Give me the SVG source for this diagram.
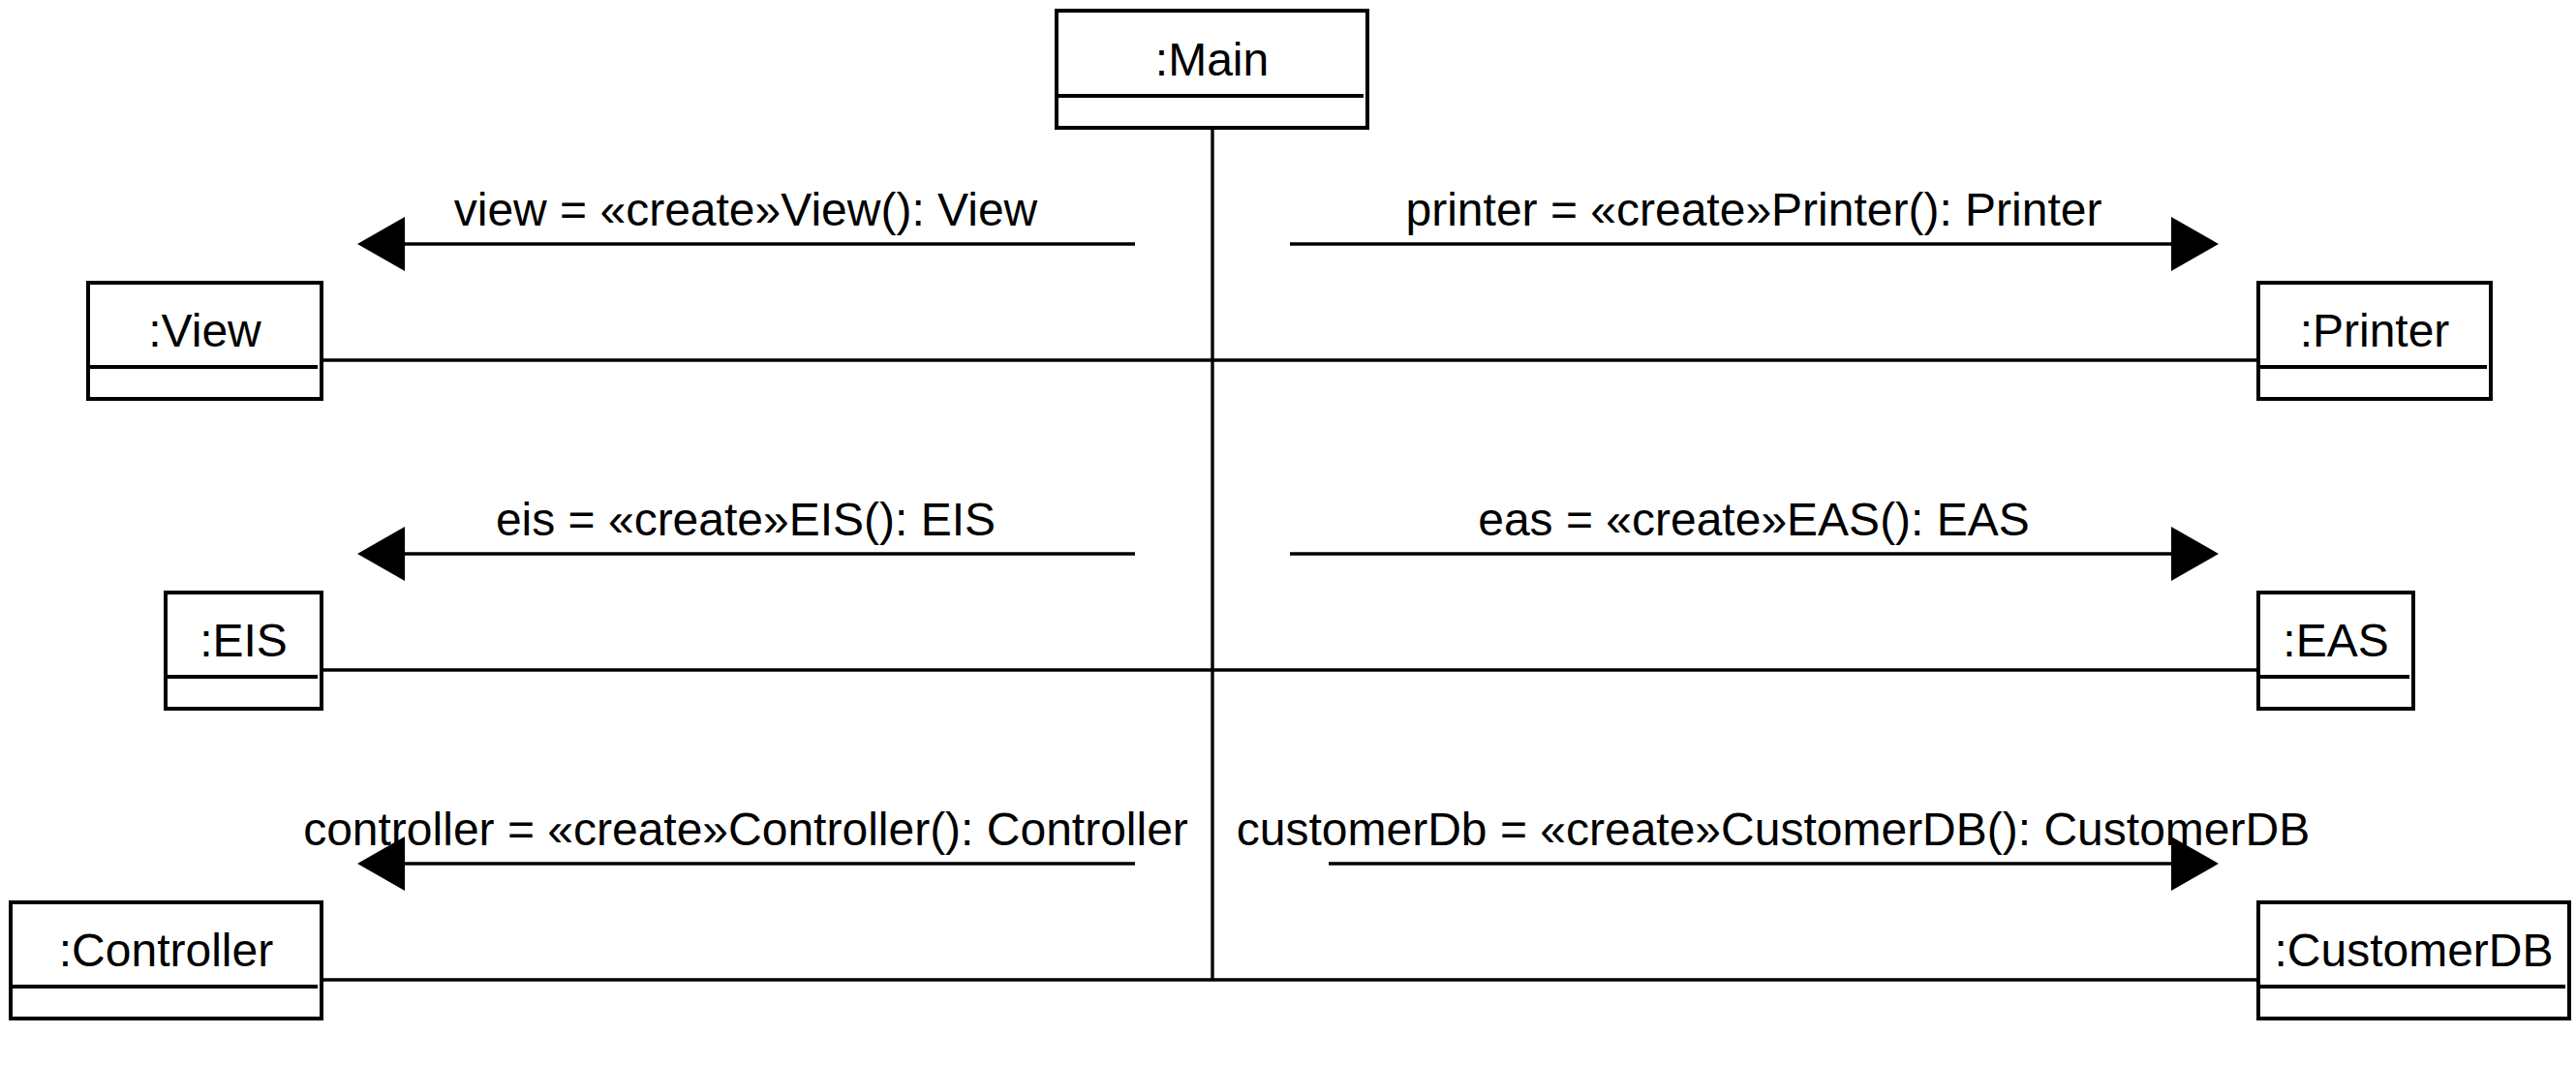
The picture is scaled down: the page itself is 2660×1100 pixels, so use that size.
<svg xmlns="http://www.w3.org/2000/svg" width="2660" height="1100" viewBox="0 0 2660 1100">
<style>
.box{fill:#fff;stroke:#000;stroke-width:4}
.div{stroke:#000;stroke-width:4}
.ln{stroke:#000;stroke-width:3.4;fill:none}
.msg{stroke:#000;stroke-width:3.4;fill:none;marker-end:url(#ah)}
text{font-family:"Liberation Sans",Arial,sans-serif;font-size:48px;fill:#000;text-anchor:middle}
</style>
<defs>
<marker id="ah" markerUnits="userSpaceOnUse" markerWidth="50" markerHeight="56" refX="0" refY="28" orient="auto" overflow="visible">
<path d="M0,0 L49,28 L0,56 Z" fill="#000"/>
</marker>
</defs>
<rect width="2660" height="1100" fill="#fff"/>
<g id="connectors">
<text x="770" y="233">view = «create»View(): View</text>
<text x="1811" y="233">printer = «create»Printer(): Printer</text>
<text x="770" y="553">eis = «create»EIS(): EIS</text>
<text x="1811" y="553">eas = «create»EAS(): EAS</text>
<text x="770" y="873">controller = «create»Controller(): Controller</text>
<text x="1831" y="873">customerDb = «create»CustomerDB(): CustomerDB</text>
<line class="ln" x1="1252" y1="132" x2="1252" y2="1012"/>
<line class="ln" x1="332" y1="372" x2="2332" y2="372"/>
<line class="ln" x1="332" y1="692" x2="2332" y2="692"/>
<line class="ln" x1="333" y1="1012" x2="2332" y2="1012"/>
<line class="msg" x1="1172" y1="252" x2="418" y2="252"/>
<line class="msg" x1="1332" y1="252" x2="2242" y2="252"/>
<line class="msg" x1="1172" y1="572" x2="418" y2="572"/>
<line class="msg" x1="1332" y1="572" x2="2242" y2="572"/>
<line class="msg" x1="1172" y1="892" x2="418" y2="892"/>
<line class="msg" x1="1372" y1="892" x2="2242" y2="892"/>
</g>
<g id="main">
<rect class="box" x="1091" y="11" width="321" height="121"/>
<line class="div" x1="1091" y1="99" x2="1408" y2="99"/>
<text x="1251.5" y="78">:Main</text>
</g>
<g id="view">
<rect class="box" x="91" y="292" width="241" height="120"/>
<line class="div" x1="91" y1="379" x2="328" y2="379"/>
<text x="211.5" y="358">:View</text>
</g>
<g id="printer">
<rect class="box" x="2332" y="292" width="240" height="120"/>
<line class="div" x1="2332" y1="379" x2="2568" y2="379"/>
<text x="2452" y="358">:Printer</text>
</g>
<g id="eis">
<rect class="box" x="171" y="612" width="161" height="120"/>
<line class="div" x1="171" y1="699" x2="328" y2="699"/>
<text x="251.5" y="678">:EIS</text>
</g>
<g id="eas">
<rect class="box" x="2332" y="612" width="160" height="120"/>
<line class="div" x1="2332" y1="699" x2="2488" y2="699"/>
<text x="2412" y="678">:EAS</text>
</g>
<g id="controller">
<rect class="box" x="11" y="932" width="321" height="120"/>
<line class="div" x1="11" y1="1019" x2="328" y2="1019"/>
<text x="171.5" y="998">:Controller</text>
</g>
<g id="customerdb">
<rect class="box" x="2332" y="932" width="321" height="120"/>
<line class="div" x1="2332" y1="1019" x2="2649" y2="1019"/>
<text x="2492.5" y="998">:CustomerDB</text>
</g>
</svg>
